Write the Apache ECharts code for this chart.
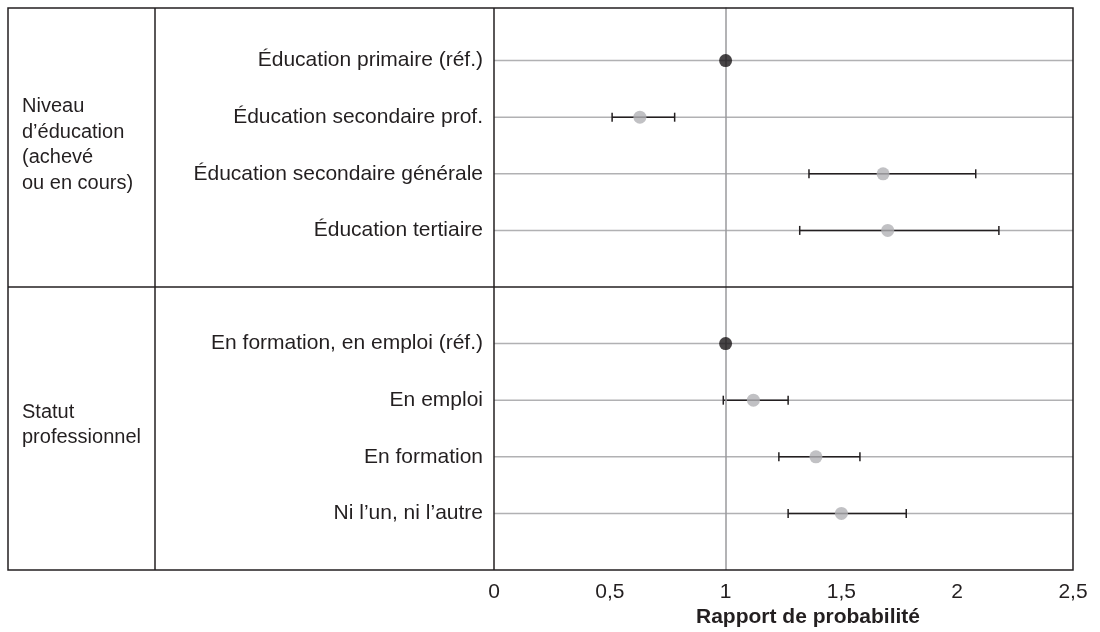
<!DOCTYPE html>
<html>
<head>
<meta charset="utf-8">
<script src="https://cdn.jsdelivr.net/npm/echarts@6/dist/echarts.min.js"></script>
<style>html,body{margin:0;padding:0;background:#fff}#c{width:1100px;height:632px}</style>
</head>
<body>
<div id="c"></div>
<script>
// ---- data ----
var categories = ['Éducation primaire (réf.)', 'Éducation secondaire prof.', 'Éducation secondaire générale', 'Éducation tertiaire',
                  'En formation, en emploi (réf.)', 'En emploi', 'En formation', 'Ni l’un, ni l’autre'];
var rowPos = [1, 2, 3, 4, 6, 7, 8, 9];
var isRef = [true, false, false, false, true, false, false, false];
var oddsRatio = [1, 0.63, 1.68, 1.70, 1, 1.12, 1.39, 1.50];
var ciLower = [null, 0.51, 1.36, 1.32, null, 0.99, 1.23, 1.27];
var ciUpper = [null, 0.78, 2.08, 2.18, null, 1.27, 1.58, 1.78];
var groups = ['Niveau\nd’éducation\n(achevé\nou en cours)', 'Statut\nprofessionnel'];
var xTicks = [0, 0.5, 1, 1.5, 2, 2.5];
var axisTitle = 'Rapport de probabilité';

var FONT = '"Liberation Sans", Arial, sans-serif';
var TXT = '#231f20';

var labelByPos = {};
rowPos.forEach(function (p, i) { labelByPos[p] = categories[i]; });

var refData = [], otherData = [], barData = [];
rowPos.forEach(function (p, i) {
  if (isRef[i]) refData.push([oddsRatio[i], p]);
  else otherData.push([oddsRatio[i], p]);
  barData.push([ciLower[i], ciUpper[i], p]);
});

var chart = echarts.init(document.getElementById('c'), null, {renderer: 'canvas'});
var L = 494, R = 1073, T = 8, B = 570;
chart.setOption({
  animation: false,
  grid: {left: L, right: 1100 - R, top: 4, bottom: 632 - B},
  xAxis: {
    type: 'value', min: xTicks[0], max: xTicks[xTicks.length - 1], interval: 0.5,
    axisLine: {show: false}, axisTick: {show: false}, splitLine: {show: false},
    axisLabel: {
      margin: 12, fontFamily: FONT, fontSize: 21, color: TXT,
      formatter: function (v) { return String(v).replace('.', ','); }
    }
  },
  yAxis: {
    type: 'value', min: 0, max: 10, interval: 1, inverse: true,
    axisLine: {show: false}, axisTick: {show: false}, splitLine: {show: false},
    axisLabel: {
      margin: 11, fontFamily: FONT, fontSize: 21, color: TXT,
      formatter: function (v) { return labelByPos[v] || ''; }
    }
  },
  graphic: [
    {type: 'rect', z: 99, shape: {x: 0, y: 0, width: 1100, height: T - 0.5}, style: {fill: '#fff'}},
    {type: 'rect', z: 100, shape: {x: 8, y: T, width: R - 8, height: B - T}, style: {fill: 'none', stroke: '#231f20', lineWidth: 1.5}},
    {type: 'line', z: 100, shape: {x1: 155, y1: T, x2: 155, y2: B}, style: {stroke: '#231f20', lineWidth: 1.5}},
    {type: 'line', z: 100, shape: {x1: L, y1: T, x2: L, y2: B}, style: {stroke: '#231f20', lineWidth: 1.5}},
    {type: 'line', z: 100, shape: {x1: 8, y1: 287, x2: R, y2: 287}, style: {stroke: '#231f20', lineWidth: 1.5}},
    {type: 'text', z: 100,
      style: {text: groups[0], x: 22, y: 145, font: '20px ' + FONT, fill: TXT, lineHeight: 25.5, textVerticalAlign: 'middle'}},
    {type: 'text', z: 100,
      style: {text: groups[1], x: 22, y: 425, font: '20px ' + FONT, fill: TXT, lineHeight: 25.5, textVerticalAlign: 'middle'}},
    {type: 'text', z: 100,
      style: {text: axisTitle, x: 808, y: 617, font: 'bold 21px ' + FONT, fill: TXT, textAlign: 'center', textVerticalAlign: 'middle'}}
  ],
  series: [
    {
      type: 'custom', z: 1, silent: true,
      data: barData,
      renderItem: function (params, api) {
        var y = api.value(2);
        var g0 = api.coord([xTicks[0], y]), g1 = api.coord([xTicks[xTicks.length - 1], y]);
        var children = [{
          type: 'line', shape: {x1: g0[0], y1: g0[1], x2: g1[0], y2: g1[1]},
          style: {stroke: '#b1b1b3', lineWidth: 1.5}
        }];
        var lo = api.value(0), hi = api.value(1);
        if (lo != null && !isNaN(lo)) {
          var a = api.coord([lo, y]), b = api.coord([hi, y]);
          children.push({type: 'line', shape: {x1: a[0], y1: a[1], x2: b[0], y2: b[1]}, style: {stroke: '#231f20', lineWidth: 1.5}});
          children.push({type: 'line', shape: {x1: a[0], y1: a[1] - 4.5, x2: a[0], y2: a[1] + 4.5}, style: {stroke: '#231f20', lineWidth: 1.5}});
          children.push({type: 'line', shape: {x1: b[0], y1: b[1] - 4.5, x2: b[0], y2: b[1] + 4.5}, style: {stroke: '#231f20', lineWidth: 1.5}});
        }
        return {type: 'group', children: children};
      }
    },
    {
      type: 'scatter', z: 3, silent: true, data: otherData, symbol: 'circle', symbolSize: 13,
      itemStyle: {color: '#b1b2b5'},
      markLine: {
        silent: true, symbol: 'none', label: {show: false}, z: 2,
        lineStyle: {color: '#9a9a9c', width: 1.5, type: 'solid'},
        data: [{xAxis: 1}]
      }
    },
    {
      type: 'scatter', z: 4, silent: true, data: refData, symbol: 'circle', symbolSize: 13,
      itemStyle: {color: '#1a1718'}
    }
  ]
});
</script>
</body>
</html>
